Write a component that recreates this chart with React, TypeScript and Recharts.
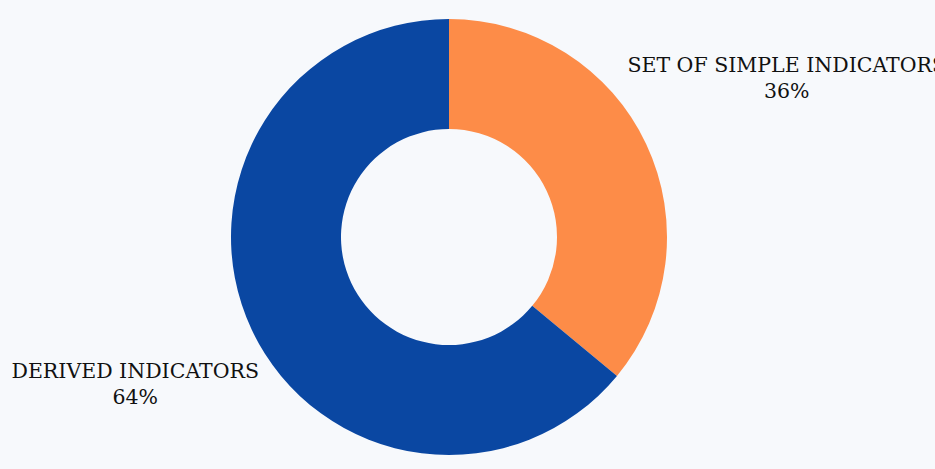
import React from 'react';
import { PieChart, Pie, Cell } from 'recharts';

const categories = ['SET OF SIMPLE INDICATORS', 'DERIVED INDICATORS'];
const shares = [36, 64];
const colors = ['#fd8c48', '#0a47a2'];

const data = categories.map((name, i) => ({ name, value: shares[i] }));

const RADIAN = Math.PI / 180;

const renderLabel = (props: any) => {
    const { cx, cy, midAngle, index } = props;
    const r = 360;
    const x = cx + r * Math.cos(-midAngle * RADIAN) + 12;
    const y = cy + r * Math.sin(-midAngle * RADIAN);
    return (
        <text
            x={x}
            y={y}
            textAnchor="middle"
            fill="#111"
            fontFamily="'DejaVu Serif', serif"
            fontSize={20.5}
        >
            <tspan x={x} y={y - 12}>{categories[index]}</tspan>
            <tspan x={x} y={y + 14}>{`${shares[index]}%`}</tspan>
        </text>
    );
};

export default function App() {
    return (
        <div style={{ position: 'absolute', left: 0, top: 0, width: 935, height: 469, background: '#f7f9fc', overflow: 'hidden' }}>
            <PieChart
                width={935}
                height={469}
                margin={{ top: 0, right: 0, bottom: 0, left: 0 }}
                style={{ overflow: 'visible' }}
            >
                <Pie
                    data={data}
                    dataKey="value"
                    nameKey="name"
                    cx={449}
                    cy={237}
                    innerRadius={108}
                    outerRadius={218}
                    startAngle={90}
                    endAngle={-270}
                    stroke="none"
                    label={renderLabel}
                    labelLine={false}
                    isAnimationActive={false}
                >
                    {data.map((_, i) => (
                        <Cell key={i} fill={colors[i]} />
                    ))}
                </Pie>
            </PieChart>
        </div>
    );
}
